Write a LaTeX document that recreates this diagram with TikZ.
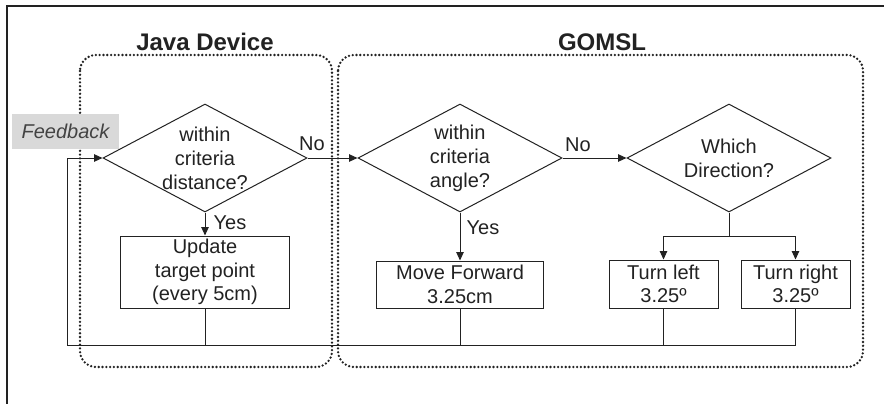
\documentclass[tikz,border=0pt]{standalone}
\usepackage{fontspec}
\setmainfont{Liberation Sans}
\usetikzlibrary{shapes.geometric,arrows.meta}
\definecolor{ink}{HTML}{222222}
\definecolor{fbgray}{HTML}{D9D9D9}
\tikzset{
  every node/.style={text=ink},
  ln/.style={draw=ink, line width=1pt},
  arr/.style={ln, -{Triangle[length=8.5pt,width=7.5pt]}},
  dia/.style={shape=diamond, draw=ink, line width=1pt, inner sep=0pt, minimum width=204pt, minimum height=108pt},
  box/.style={draw=ink, line width=1pt, inner sep=0pt, align=center, font=\fontsize{20}{23.5}\selectfont},
  dtext/.style={align=center, inner sep=0pt, font=\fontsize{20}{24}\selectfont},
  lbl/.style={inner sep=0pt, font=\fontsize{20}{24}\selectfont},
  title/.style={inner sep=0pt, anchor=base, font=\fontsize{24}{28}\selectfont\bfseries},
  group/.style={draw=ink, line width=2.6pt, line cap=round, dash pattern=on 0pt off 3.8pt, rounded corners=16pt},
}
\begin{document}
\begin{tikzpicture}[x=1pt,y=-1pt]
\useasboundingbox (0,0) rectangle (884,404);
\fill[white] (0,0) rectangle (884,404);
% outer frame (top and left edges)
\draw[ink, line width=1.3pt] (7,404) -- (7,6) -- (884,6);

% groups
\draw[group] (80,55) rectangle (332,367);
\draw[group] (338,55) rectangle (863,367);
\node[title] (tjava) at (205,51) {Java Device};
\node[title] (tgoms) at (602,51) {GOMSL};

% feedback label
\node[fill=fbgray, minimum width=107pt, minimum height=35pt, inner sep=0pt,
      font=\fontsize{20}{24}\selectfont\itshape, text=ink!85] (fb) at (65.5,131.5) {Feedback};

% diamonds
\node[dia] (d1) at (205,158) {};
\node[dtext] (d1t) at (d1) {within\\criteria\\distance?};
\node[dia] (d2) at (460,158) {};
\node[dtext] (d2t) at (d2) {within\\criteria\\angle?};
\node[dia] (d3) at (729,158) {};
\node[dtext] (d3t) at (d3) {Which\\Direction?};

% boxes
\node[box, minimum width=169pt, minimum height=72pt] (upd) at (205,272) {Update\\target point\\(every 5cm)};
\node[box, minimum width=167pt, minimum height=47pt] (mf) at (460,284.5) {Move Forward\\3.25cm};
\node[box, minimum width=109pt, minimum height=48pt] (tl) at (663.5,284) {Turn left\\3.25º};
\node[box, minimum width=109pt, minimum height=48pt] (tr) at (795.5,284) {Turn right\\3.25º};

% connectors
\draw[arr] (d1.east) -- (d2.west);
\draw[arr] (d2.east) -- (d3.west);
\draw[arr] (d1.south) -- (upd.north);
\draw[arr] (d2.south) -- (mf.north);
\coordinate (br) at (729,236);
\draw[ln] (d3.south) -- (br);
\draw[arr] (br) -| (tl.north);
\draw[arr] (br) -| (tr.north);

% feedback loop
\coordinate (loopL) at (67,345);
\draw[arr] (tr.south) |- (loopL) |- (d1.west);
\draw[ln] (upd.south) -- (upd.south |- loopL);
\draw[ln] (mf.south) -- (mf.south |- loopL);
\draw[ln] (tl.south) -- (tl.south |- loopL);

% labels
\node[lbl] (no1) at (312,144) {No};
\node[lbl] (no2) at (578,145) {No};
\node[lbl] (yes1) at (230,223) {Yes};
\node[lbl] (yes2) at (483,228) {Yes};
\end{tikzpicture}
\end{document}
